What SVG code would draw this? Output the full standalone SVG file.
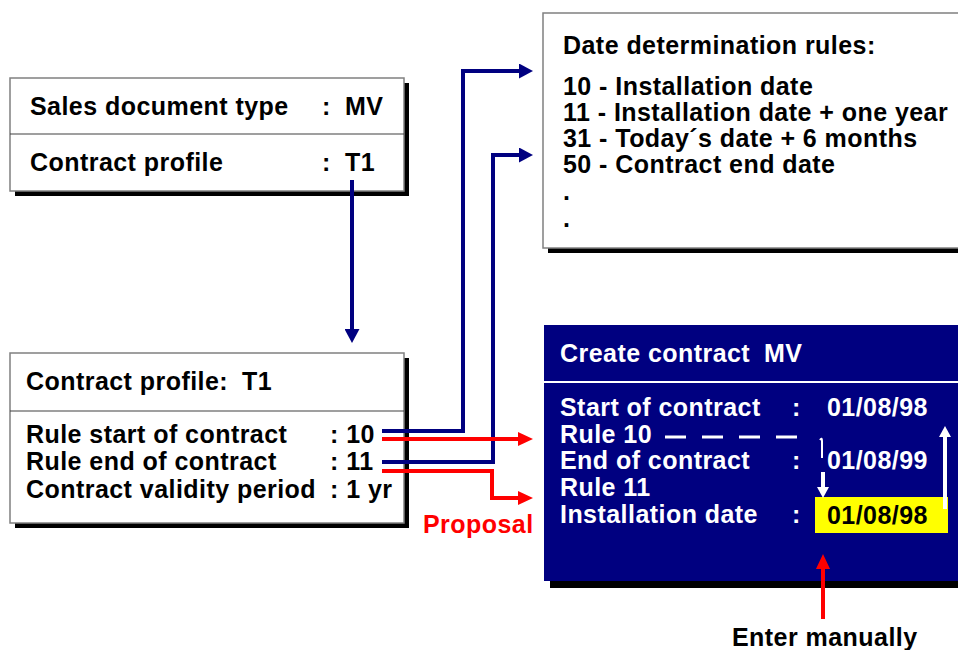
<svg xmlns="http://www.w3.org/2000/svg" width="958" height="650" viewBox="0 0 958 650">
<defs>
<style>
text{font-family:"Liberation Sans",Arial,sans-serif;font-weight:bold;font-size:25px;letter-spacing:0.45px}
.box{fill:#fff;stroke:#808080;stroke-width:1.5}
.shadow{fill:#000}
.div{stroke:#404040;stroke-width:1.2}
.blk{fill:#000}
.wht{fill:#fff}
.red{fill:#f00}
.navy{fill:none;stroke:#000080;stroke-width:4}
.redl{fill:none;stroke:#f00;stroke-width:4}
.whl{fill:none;stroke:#fff;stroke-width:4}
</style>
<marker id="ah-navy" markerUnits="userSpaceOnUse" markerWidth="14" markerHeight="15" refX="0" refY="7.5" orient="auto" viewBox="0 0 14 15"><path d="M0,0 L14,7.5 L0,15 z" fill="#000080"/></marker>
<marker id="ah-red" markerUnits="userSpaceOnUse" markerWidth="15" markerHeight="14" refX="0" refY="7" orient="auto" viewBox="0 0 15 14"><path d="M0,0 L15,7 L0,14 z" fill="#f00"/></marker>
<marker id="ah-white" markerUnits="userSpaceOnUse" markerWidth="11" markerHeight="12" refX="0" refY="6" orient="auto" viewBox="0 0 11 12"><path d="M0,0 L11,6 L0,12 z" fill="#fff"/></marker>
</defs>
<rect width="958" height="650" fill="#fff"/>

<g id="sales-document">
<rect class="shadow" x="15" y="83" width="394" height="113"/>
<rect class="box" x="10" y="78" width="394" height="113"/>
<line class="div" x1="10" y1="134" x2="404" y2="134"/>
<text class="blk" x="30" y="115">Sales document type</text>
<text class="blk" x="322" y="115">:</text>
<text class="blk" x="345" y="115">MV</text>
<text class="blk" x="30" y="171">Contract profile</text>
<text class="blk" x="322" y="171">:</text>
<text class="blk" x="345" y="171">T1</text>
</g>

<g id="contract-profile">
<rect class="shadow" x="15" y="358" width="394" height="170"/>
<rect class="box" x="10" y="353" width="394" height="170"/>
<line class="div" x1="10" y1="411" x2="404" y2="411"/>
<text class="blk" x="26" y="390">Contract profile:</text>
<text class="blk" x="242" y="390">T1</text>
<text class="blk" x="26" y="443">Rule start of contract</text>
<text class="blk" x="330" y="443">: 10</text>
<text class="blk" x="26" y="470">Rule end of contract</text>
<text class="blk" x="330" y="470">: 11</text>
<text class="blk" x="26" y="498">Contract validity period</text>
<text class="blk" x="330" y="498">: 1 yr</text>
</g>

<g id="date-rules">
<rect class="shadow" x="548" y="18" width="420" height="235"/>
<rect class="box" x="543" y="13" width="420" height="235"/>
<text class="blk" x="563" y="54">Date determination rules:</text>
<text class="blk" x="563" y="95">10 - Installation date</text>
<text class="blk" x="563" y="121">11 - Installation date + one year</text>
<text class="blk" x="563" y="147">31 - Today´s date + 6 months</text>
<text class="blk" x="563" y="173">50 - Contract end date</text>
<text class="blk" x="563" y="200">.</text>
<text class="blk" x="563" y="227">.</text>
</g>

<g id="create-contract">
<rect class="shadow" x="550" y="331" width="420" height="257"/>
<rect x="544" y="325" width="420" height="256" fill="#000080"/>
<line x1="544" y1="382" x2="958" y2="382" stroke="#fff" stroke-width="2"/>
<text class="wht" x="560" y="362">Create contract</text>
<text class="wht" x="764" y="362">MV</text>
<text class="wht" x="560" y="416">Start of contract</text>
<text class="wht" x="792" y="416">:</text>
<text class="wht" x="827" y="416">01/08/98</text>
<text class="wht" x="560" y="443">Rule 10</text>
<text class="wht" x="560" y="469">End of contract</text>
<text class="wht" x="792" y="469">:</text>
<text class="wht" x="827" y="469">01/08/99</text>
<text class="wht" x="560" y="496">Rule 11</text>
<text class="wht" x="560" y="523">Installation date</text>
<text class="wht" x="792" y="523">:</text>
<rect x="815" y="497" width="133" height="36" fill="#ff0"/>
<text class="blk" x="827" y="524">01/08/98</text>
<line x1="665" y1="437" x2="804" y2="437" stroke="#fff" stroke-width="3" stroke-dasharray="21 16"/>
<path d="M820,440 Q822,437 822,441 V458" fill="none" stroke="#fff" stroke-width="2"/>
<path class="whl" d="M823,472 V487" marker-end="url(#ah-white)"/>
<path class="whl" d="M945,509 V437" marker-end="url(#ah-white)"/>
</g>

<g id="labels">
<text class="red" x="423" y="533">Proposal</text>
<text class="blk" x="732" y="646">Enter manually</text>
</g>

<g id="connectors">
<path class="navy" d="M352,180 V329" marker-end="url(#ah-navy)"/>
<path class="navy" d="M382,431 H463 V71 H519" marker-end="url(#ah-navy)"/>
<path class="navy" d="M382,462 H493 V155 H519" marker-end="url(#ah-navy)"/>
<path class="redl" d="M382,439 H518" marker-end="url(#ah-red)"/>
<path class="redl" d="M382,471 H492 V498 H518" marker-end="url(#ah-red)"/>
<path class="redl" d="M823,619 V569" marker-end="url(#ah-red)"/>
</g>
</svg>
